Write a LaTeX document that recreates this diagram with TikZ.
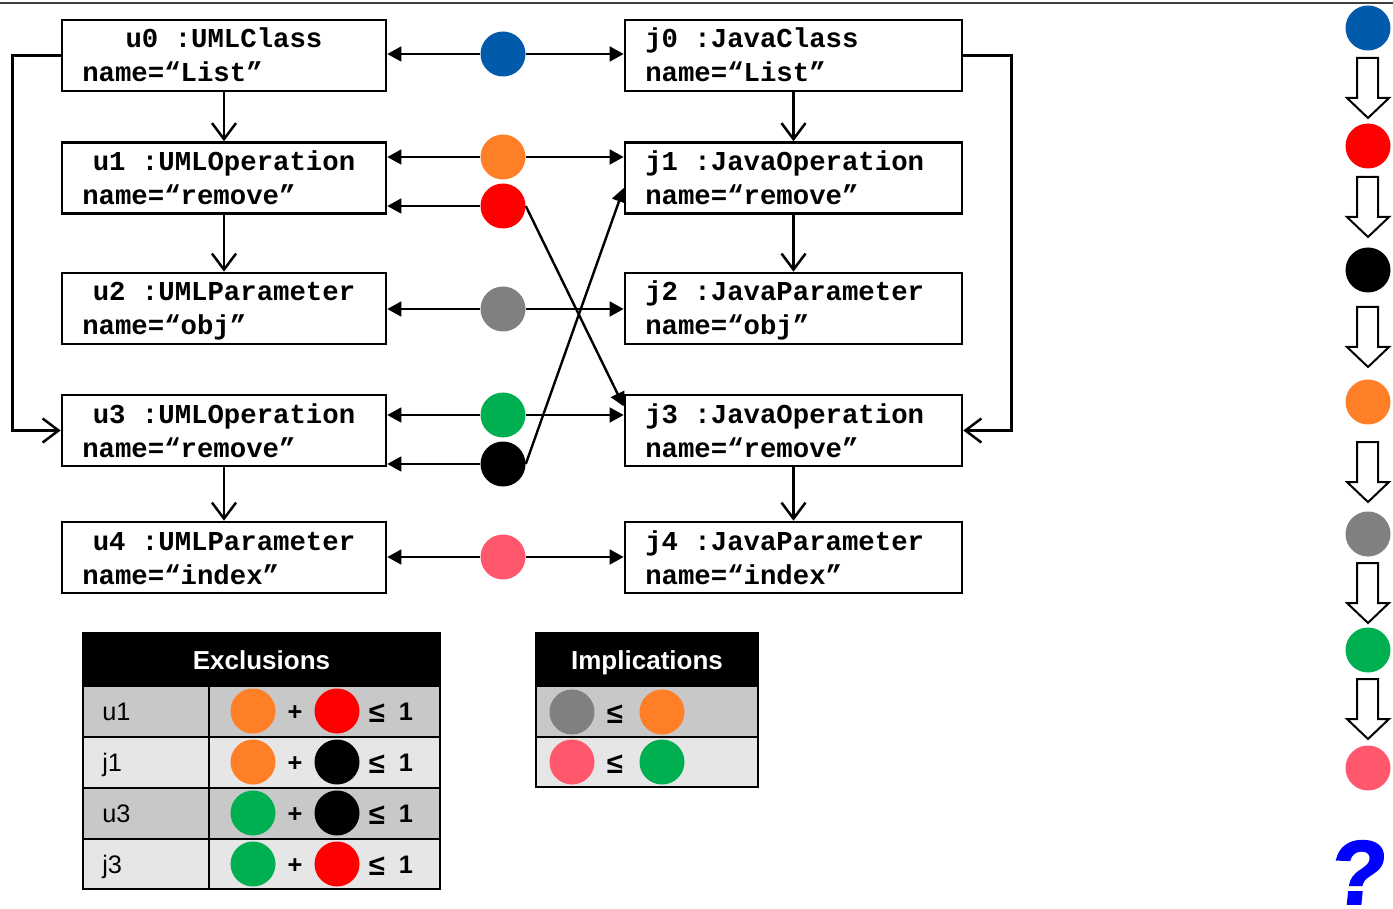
\documentclass[tikz,border=0pt]{standalone}
\usepackage{fontspec}
\setmainfont{Liberation Sans}
\newfontfamily\monof{Liberation Mono}
\newfontfamily\qfont{Liberation Sans}[BoldFeatures={FakeSlant=0.1,FakeBold=2}]
\usetikzlibrary{arrows.meta}
\definecolor{cblue}{RGB}{2,90,170}
\definecolor{cred}{RGB}{255,0,0}
\definecolor{corange}{RGB}{255,127,39}
\definecolor{cgray}{RGB}{128,128,128}
\definecolor{cgreen}{RGB}{0,176,80}
\definecolor{cpink}{RGB}{255,88,108}
\definecolor{rowdark}{RGB}{200,200,200}
\definecolor{rowlight}{RGB}{230,230,230}
\definecolor{qblue}{RGB}{0,0,255}
\begin{document}
\begin{tikzpicture}[x=0.75pt,y=-0.75pt,
  umlbox/.style={draw, line width=1.9pt, minimum height=53.25pt, inner sep=0},
  lbox/.style={umlbox, minimum width=243pt},
  rbox/.style={umlbox, minimum width=252.75pt},
  mono/.style={font=\monof\bfseries\fontsize{20.5}{24}\selectfont, inner sep=0},
  dot/.style={circle, minimum size=33.75pt, inner sep=0, draw=none},
  harr/.style={line width=1.8pt, -{Triangle[length=10.5pt,width=11pt]}},
  varr/.style={line width=1.9pt, -{Straight Barb[length=12pt,width=18pt,line width=1.9pt]}},
  hdr/.style={font=\bfseries\fontsize{19.5}{22}\selectfont, text=white, inner sep=0, anchor=base},
  lbl/.style={font=\fontsize{19}{22}\selectfont, inner sep=0},
  sym/.style={font=\bfseries\fontsize{19}{22}\selectfont, inner sep=0},
  leq/.style={font=\bfseries\fontsize{22}{24}\selectfont, inner sep=0},
  tline/.style={line width=2.2pt},
  harrow/.style={draw, line width=1.5pt, fill=white, line join=miter}
]
\useasboundingbox (0,0) rectangle (1393,909);
\clip (0,0) rectangle (1393,909);

% top rule
\draw[line width=1.5pt, black!75] (0,3) -- (1393,3);

% UML boxes (left)
\node[lbox] (u0) at (224,55.5) {};
\node[lbox] (u1) at (224,178) {};
\node[lbox] (u2) at (224,308.5) {};
\node[lbox] (u3) at (224,430.5) {};
\node[lbox] (u4) at (224,557.5) {};
% Java boxes (right)
\node[rbox] (j0) at (793.5,55.5) {};
\node[rbox] (j1) at (793.5,178) {};
\node[rbox] (j2) at (793.5,308.5) {};
\node[rbox] (j3) at (793.5,430.5) {};
\node[rbox] (j4) at (793.5,557.5) {};

% texts left
\node[mono, anchor=base] (u0t) at (224,48) {u0 :UMLClass};
\node[mono, anchor=base west] (u0n) at (82,82) {name=“List”};
\node[mono, anchor=base] (u1t) at (224,171) {u1 :UMLOperation};
\node[mono, anchor=base west] (u1n) at (82,205) {name=“remove”};
\node[mono, anchor=base] (u2t) at (224,301) {u2 :UMLParameter};
\node[mono, anchor=base west] (u2n) at (82,335) {name=“obj”};
\node[mono, anchor=base] (u3t) at (224,423) {u3 :UMLOperation};
\node[mono, anchor=base west] (u3n) at (82,457) {name=“remove”};
\node[mono, anchor=base] (u4t) at (224,550) {u4 :UMLParameter};
\node[mono, anchor=base west] (u4n) at (82,584) {name=“index”};
% texts right
\node[mono, anchor=base west] (j0t) at (645,48) {j0 :JavaClass};
\node[mono, anchor=base west] (j0n) at (645,82) {name=“List”};
\node[mono, anchor=base west] (j1t) at (645,171) {j1 :JavaOperation};
\node[mono, anchor=base west] (j1n) at (645,205) {name=“remove”};
\node[mono, anchor=base west] (j2t) at (645,301) {j2 :JavaParameter};
\node[mono, anchor=base west] (j2n) at (645,335) {name=“obj”};
\node[mono, anchor=base west] (j3t) at (645,423) {j3 :JavaOperation};
\node[mono, anchor=base west] (j3n) at (645,457) {name=“remove”};
\node[mono, anchor=base west] (j4t) at (645,550) {j4 :JavaParameter};
\node[mono, anchor=base west] (j4n) at (645,584) {name=“index”};

% containment arrows
\draw[varr] (u0) -- (u1);
\draw[varr] (u1) -- (u2);
\draw[varr] (u3) -- (u4);
\draw[varr] (j0) -- (j1);
\draw[varr] (j1) -- (j2);
\draw[varr] (j3) -- (j4);
\draw[varr] (u0.west) -- ++(-48,0) |- (u3.west);
\draw[varr] (j0.east) -- ++(48,0) |- (j3.east);

% correspondence dots
\node[dot, fill=cblue] (db) at (503,54) {};
\node[dot, fill=corange] (do) at (503,157) {};
\node[dot, fill=cred] (dr) at (503,206) {};
\node[dot, fill=cgray] (dg) at (503,309) {};
\node[dot, fill=cgreen] (dgr) at (503,415) {};
\node[dot, fill=black] (dk) at (503,464) {};
\node[dot, fill=cpink] (dp) at (503,557) {};

\draw[harr] (db) -- (db -| u0.east);
\draw[harr] (db) -- (db -| j0.west);
\draw[harr] (do) -- (do -| u1.east);
\draw[harr] (do) -- (do -| j1.west);
\draw[harr] (dr) -- (dr -| u1.east);
\draw[harr] (dr.east) -- ([yshift=-9.5pt]j3.north west);
\draw[harr] (dg) -- (dg -| u2.east);
\draw[harr] (dg) -- (dg -| j2.west);
\draw[harr] (dgr) -- (dgr -| u3.east);
\draw[harr] (dgr) -- (dgr -| j3.west);
\draw[harr] (dk) -- (dk -| u3.east);
\draw[harr] (dk.east) -- ([yshift=-7.5pt]j1.west);
\draw[harr] (dp) -- (dp -| u4.east);
\draw[harr] (dp) -- (dp -| j4.west);

% Exclusions table
\fill[black] (83,633) rectangle (440,686);
\fill[rowdark] (83,686) rectangle (440,737);
\fill[rowlight] (83,737) rectangle (440,788);
\fill[rowdark] (83,788) rectangle (440,839);
\fill[rowlight] (83,839) rectangle (440,889);
\draw[tline] (83,633) rectangle (440,889);
\draw[tline] (83,686) -- (440,686);
\draw[tline] (83,737) -- (440,737);
\draw[tline] (83,788) -- (440,788);
\draw[tline] (83,839) -- (440,839);
\draw[tline] (209,686) -- (209,889);
\node[hdr] (exh) at (261.5,669) {Exclusions};
\node[lbl, anchor=base west] (e1) at (102,720) {u1};
\node[lbl, anchor=base west] (e2) at (102,771) {j1};
\node[lbl, anchor=base west] (e3) at (102,822) {u3};
\node[lbl, anchor=base west] (e4) at (102,873) {j3};
\foreach \yy/\ca/\cb/\nm in {711/corange/cred/a, 762/corange/black/b, 813/cgreen/black/c, 864/cgreen/cred/d}{
  \node[dot, fill=\ca] (ex\nm1) at (253,\yy) {};
  \node[sym] (ex\nm p) at (295,\yy+2) {+};
  \node[dot, fill=\cb] (ex\nm2) at (337,\yy) {};
  \node[leq] (ex\nm l) at (377,\yy+2) {≤};
  \node[lbl, anchor=base] (ex\nm o) at (406,\yy+9) {\bfseries 1};
}

% Implications table
\fill[black] (536,633) rectangle (758,686);
\fill[rowdark] (536,686) rectangle (758,737);
\fill[rowlight] (536,737) rectangle (758,787);
\draw[tline] (536,633) rectangle (758,787);
\draw[tline] (536,686) -- (758,686);
\draw[tline] (536,737) -- (758,737);
\node[hdr] (imh) at (647,669) {Implications};
\node[dot, fill=cgray] (im1a) at (572,712) {};
\node[leq] (im1l) at (615,714) {≤};
\node[dot, fill=corange] (im1b) at (662,712) {};
\node[dot, fill=cpink] (im2a) at (572,762) {};
\node[leq] (im2l) at (615,764) {≤};
\node[dot, fill=cgreen] (im2b) at (662,762) {};

% right sequence
\node[dot, fill=cblue] (s1) at (1368,28) {};
\node[dot, fill=cred] (s2) at (1368,146) {};
\node[dot, fill=black] (s3) at (1368,270) {};
\node[dot, fill=corange] (s4) at (1368,402) {};
\node[dot, fill=cgray] (s5) at (1368,534) {};
\node[dot, fill=cgreen] (s6) at (1368,650) {};
\node[dot, fill=cpink] (s7) at (1368,768) {};
\foreach \t in {58,177,307,442,563,679}{
  \draw[harrow] (1357,\t) -- (1378,\t) -- (1378,{\t+40}) -- (1389,{\t+40}) -- (1368,{\t+60}) -- (1347,{\t+40}) -- (1357,{\t+40}) -- cycle;
}
\node[font=\qfont\bfseries\fontsize{68}{68}\selectfont, text=qblue, inner sep=0, anchor=base east] (qm) at (1384,904) {?};
\end{tikzpicture}
\end{document}
